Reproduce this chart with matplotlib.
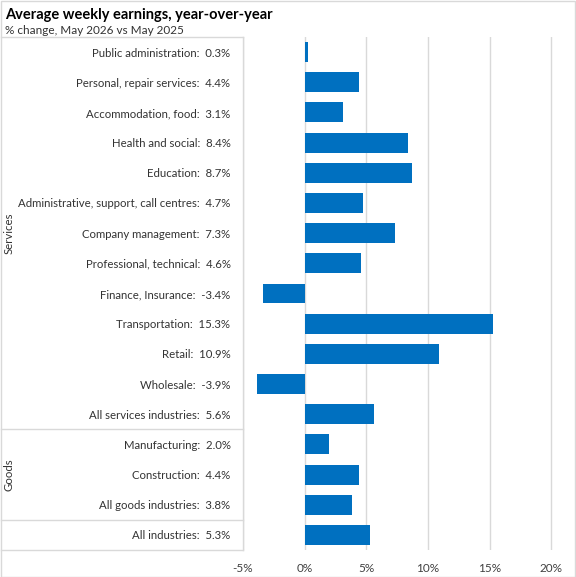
import matplotlib
matplotlib.use("Agg")
import matplotlib.pyplot as plt
from matplotlib.lines import Line2D
from matplotlib.patches import Rectangle

categories = ["Public administration", "Personal, repair services", "Accommodation, food",
              "Health and social", "Education", "Administrative, support, call centres",
              "Company management", "Professional, technical", "Finance, Insurance",
              "Transportation", "Retail", "Wholesale", "All services industries",
              "Manufacturing", "Construction", "All goods industries", "All industries"]
values = [0.3, 4.4, 3.1, 8.4, 8.7, 4.7, 7.3, 4.6, -3.4, 15.3, 10.9, -3.9, 5.6,
          2.0, 4.4, 3.8, 5.3]
groups = [("Services", 0, 12), ("Goods", 13, 15)]
xticks = [-5, 0, 5, 10, 15, 20]

plt.rcParams['font.family'] = ['Lato', 'DejaVu Sans']

W, H = 576, 577
fig = plt.figure(figsize=(W/100, H/100), dpi=100)
left_px, right_px, top_px, bot_px = 243, 570, 37, 550
ax = fig.add_axes([left_px/W, 1 - bot_px/H, (right_px-left_px)/W, (bot_px-top_px)/H])

n = len(categories)
ypos = list(range(n))
ax.barh(ypos, values, height=0.66, color="#0070C0", zorder=3)
ax.set_ylim(n - 0.5, -0.5)
ax.set_xlim(-5, 21.5)
ax.set_xticks(xticks)
ax.set_xticklabels([f"{t}%" for t in xticks], fontsize=8.5, color="#404040")
ax.set_yticks(ypos)
ax.set_yticklabels([f"{c}:  {v:.1f}%" for c, v in zip(categories, values)],
                   fontsize=8.2, color="#333333")
ax.tick_params(axis='both', length=0)
ax.tick_params(axis='y', pad=9)
ax.tick_params(axis='x', pad=9)
for s in ax.spines.values():
    s.set_visible(False)
ax.grid(axis='x', color="#D9D9D9", linewidth=1, zorder=0)

# label table lines
tr = ax.get_yaxis_transform()
xl = -(left_px - 1) / (right_px - left_px)
linekw = dict(color="#D9D9D9", linewidth=1, transform=tr, clip_on=False)
for yb in [-0.5, 12.5, 15.5, n - 0.5]:
    ax.add_line(Line2D([xl, 0], [yb, yb], **linekw))
ax.add_line(Line2D([0, 0], [-0.5, n - 0.5], **linekw))

for name, a, b in groups:
    ax.text(xl + 0.025, (a + b) / 2, name, rotation=90, ha='center', va='center',
            fontsize=8.2, color="#333333", transform=tr)

fig.text(5/W, 1 - 15/H, "Average weekly earnings, year-over-year", fontsize=10.5,
         fontweight='bold', va='center', ha='left', color="#000000")
fig.text(5/W, 1 - 31/H, "% change, May 2026 vs May 2025", fontsize=8.5,
         va='center', ha='left', color="#333333")

fig.add_artist(Rectangle((0.5/W, 0.5/H), 1 - 1.5/W, 1 - 1.5/H, transform=fig.transFigure,
                         fill=False, edgecolor="#D9D9D9", linewidth=1))

fig.savefig("out.png", dpi=100)
